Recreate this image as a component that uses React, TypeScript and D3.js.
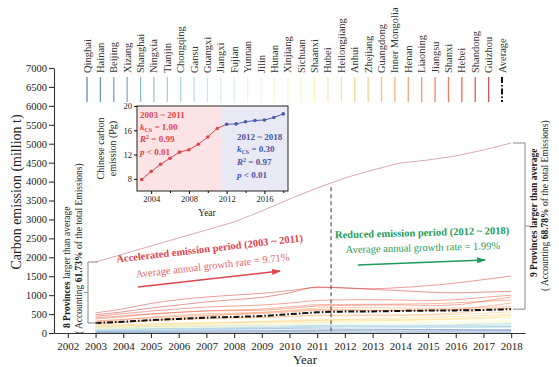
import React, { useEffect, useRef } from 'react';
import * as d3 from 'd3';

// ---- data (million t) ----
const years = [2003, 2004, 2005, 2006, 2007, 2008, 2009, 2010, 2011, 2012, 2013, 2014, 2015, 2016, 2017, 2018];
const xTicks = [2002, 2003, 2004, 2005, 2006, 2007, 2008, 2009, 2010, 2011, 2012, 2013, 2014, 2015, 2016, 2017, 2018];
const yTicks = [0, 500, 1000, 1500, 2000, 2500, 3000, 3500, 4000, 4500, 5000, 5500, 6000, 6500, 7000];

const provinces = ['Qinghai', 'Hainan', 'Beijing', 'Xizang', 'Shanghai', 'Ningxia', 'Tianjin', 'Chongqing', 'Gansu', 'Guangxi',
  'Jiangxi', 'Fujian', 'Yunnan', 'Jilin', 'Hunan', 'Xinjiang', 'Sichuan', 'Shaanxi', 'Hubei', 'Heilongjiang', 'Anhui',
  'Zhejiang', 'Guangdong', 'Inner Mongolia', 'Henan', 'Liaoning', 'Jiangsu', 'Shanxi', 'Hebei', 'Shandong', 'Guizhou'];

const qinghai = [40, 43, 46, 50, 54, 58, 61, 66, 72, 78, 82, 84, 80, 76, 74, 72];
const hainan = [18, 20, 23, 26, 29, 32, 35, 39, 44, 47, 48, 47, 46, 45, 47, 49];
const beijing = [92, 98, 104, 108, 110, 108, 110, 112, 106, 104, 100, 97, 94, 91, 89, 86];
const xizang = [4, 5, 5, 6, 6, 7, 7, 8, 8, 9, 9, 10, 10, 11, 11, 12];
const shanghai = [150, 162, 172, 178, 184, 188, 186, 194, 200, 196, 190, 186, 190, 193, 189, 185];
const ningxia = [55, 64, 73, 82, 92, 102, 114, 132, 160, 170, 176, 182, 192, 210, 236, 255];
const tianjin = [98, 106, 116, 122, 132, 138, 146, 160, 176, 181, 185, 180, 176, 170, 166, 165];
const chongqing = [82, 90, 97, 106, 116, 126, 136, 150, 166, 161, 152, 149, 151, 152, 158, 165];
const gansu = [88, 96, 106, 112, 121, 126, 131, 141, 156, 161, 166, 163, 156, 151, 156, 160];
const guangxi = [78, 86, 96, 106, 116, 122, 136, 152, 172, 182, 188, 183, 176, 182, 196, 212];
const jiangxi = [88, 98, 108, 118, 128, 134, 140, 154, 170, 172, 182, 188, 192, 198, 210, 222];
const fujian = [100, 118, 134, 150, 168, 178, 192, 208, 236, 236, 230, 240, 232, 238, 262, 278];
const yunnan = [118, 136, 154, 166, 176, 182, 192, 204, 212, 204, 196, 186, 176, 180, 192, 210];
const jilin = [140, 156, 176, 192, 208, 214, 224, 244, 266, 262, 254, 250, 240, 238, 244, 256];
const hunan = [150, 170, 194, 210, 226, 232, 244, 264, 282, 276, 272, 268, 264, 270, 282, 296];
const xinjiang = [112, 122, 134, 148, 160, 172, 188, 212, 250, 290, 330, 360, 380, 396, 410, 420];
const sichuan = [170, 186, 206, 222, 238, 248, 272, 288, 296, 304, 314, 306, 298, 300, 318, 336];
const shaanxi = [130, 146, 164, 180, 198, 214, 232, 262, 286, 302, 318, 334, 344, 356, 378, 400];
const hubei = [190, 212, 242, 262, 284, 294, 310, 336, 360, 356, 346, 344, 352, 366, 392, 432];
const heilongjiang = [205, 220, 236, 252, 264, 276, 284, 306, 330, 338, 342, 346, 358, 380, 420, 466];
const anhui = [176, 192, 210, 232, 254, 276, 298, 316, 340, 356, 380, 396, 412, 434, 462, 498];
const zhejiang = [270, 304, 340, 370, 396, 406, 414, 432, 458, 456, 458, 462, 470, 490, 524, 560];
const guangdong = [250, 286, 324, 352, 380, 392, 410, 440, 472, 470, 472, 478, 488, 530, 590, 642];
const innerMongolia = [230, 276, 340, 392, 444, 494, 536, 594, 660, 672, 668, 660, 650, 660, 676, 692];
const henan = [300, 350, 420, 470, 508, 526, 548, 586, 620, 612, 600, 604, 606, 614, 632, 652];
const liaoning = [320, 360, 398, 438, 470, 492, 514, 556, 598, 600, 596, 590, 588, 620, 700, 790];
const jiangsu = [370, 430, 500, 548, 588, 608, 636, 690, 748, 756, 758, 764, 772, 796, 834, 870];
const shanxi = [400, 456, 506, 544, 580, 590, 600, 650, 712, 730, 738, 742, 724, 744, 840, 950];
const hebei = [440, 510, 580, 636, 684, 712, 740, 790, 860, 876, 880, 870, 860, 880, 940, 1000];
const shandong = [530, 640, 780, 880, 950, 1000, 1050, 1120, 1200, 1190, 1170, 1200, 1250, 1320, 1410, 1505];
const guizhou = [480, 560, 660, 740, 820, 880, 940, 1060, 1215, 1190, 1150, 1120, 1080, 1060, 1080, 1100];

const provinceSeries = [qinghai, hainan, beijing, xizang, shanghai, ningxia, tianjin, chongqing, gansu, guangxi,
  jiangxi, fujian, yunnan, jilin, hunan, xinjiang, sichuan, shaanxi, hubei, heilongjiang, anhui,
  zhejiang, guangdong, innerMongolia, henan, liaoning, jiangsu, shanxi, hebei, shandong, guizhou];

const average = [265, 300, 340, 372, 405, 425, 450, 497, 545, 565, 570, 583, 592, 597, 610, 630];
const aboveAverageTotal = [1875, 2087, 2298, 2509, 2721, 2932, 3223, 3540, 3830, 4094, 4306, 4491, 4570, 4676, 4834, 5019];

// inset: Chinese carbon emission (Pg)
const insetYearsEarly = [2003, 2004, 2005, 2006, 2007, 2008, 2009, 2010, 2011];
const insetEarly = [7.9, 9.2, 10.4, 11.4, 12.4, 12.8, 13.7, 14.9, 16.3];
const insetYearsLate = [2012, 2013, 2014, 2015, 2016, 2017, 2018];
const insetLate = [17.0, 17.05, 17.4, 17.6, 17.7, 18.1, 18.7];
const insetXTicks = [2004, 2008, 2012, 2016];
const insetXMinor = [2006, 2010, 2014, 2018];
const insetYTicks = [8, 12, 16, 20];

const serif = "'Liberation Serif', 'Times New Roman', Times, serif";
const red = '#e0444b';
const redLight = '#e4686d';
const green = '#1e9a5a';
const blueTxt = '#4a55a8';

type Part = { t: string; bold?: boolean; italic?: boolean; dy?: number; size?: number };

function rich(sel: any, parts: Part[]) {
  parts.forEach(p => {
    const ts = sel.append('tspan').text(p.t);
    if (p.bold) ts.attr('font-weight', 'bold');
    if (p.italic) ts.attr('font-style', 'italic');
    if (p.dy) ts.attr('dy', p.dy);
    if (p.size) ts.attr('font-size', p.size);
  });
}

const App: React.FC = () => {
  const svgRef = useRef<SVGSVGElement>(null);

  useEffect(() => {
    if (!svgRef.current) return;
    const svg = d3.select(svgRef.current);
    svg.selectAll('*').remove();
    svg.attr('font-family', serif);

    const x = d3.scaleLinear().domain([2001.5, 2018.5]).range([54, 525]);
    const y = d3.scaleLinear().domain([0, 7000]).range([333, 68]);

    const defs = svg.append('defs');
    [['arrRed', red], ['arrGreen', green]].forEach(([id, c]) => {
      defs.append('marker')
        .attr('id', id)
        .attr('markerUnits', 'userSpaceOnUse')
        .attr('markerWidth', 9).attr('markerHeight', 6)
        .attr('refX', 8).attr('refY', 3)
        .attr('orient', 'auto')
        .append('path').attr('d', 'M0,0 L9,3 L0,6 Z').attr('fill', c);
    });

    // province lines
    const color = (i: number) => d3.interpolateRdYlBu(0.92 - i * (0.84 / 30));
    const line = d3.line<number>()
      .x((_, i) => x(years[i]))
      .y(d => y(d))
      .curve(d3.curveMonotoneX);

    provinceSeries.forEach((s, i) => {
      svg.append('path')
        .attr('d', line(s))
        .attr('fill', 'none')
        .attr('stroke', color(i))
        .attr('stroke-opacity', 0.55)
        .attr('stroke-width', 0.9);
    });

    // total of the above-average group
    svg.append('path')
      .attr('d', d3.line<number>().x((_, i) => x(years[i])).y(d => y(d))(aboveAverageTotal))
      .attr('fill', 'none')
      .attr('stroke', '#dcaaad')
      .attr('stroke-width', 1);

    // average
    svg.append('path')
      .attr('d', line(average))
      .attr('fill', 'none')
      .attr('stroke', '#111')
      .attr('stroke-width', 2)
      .attr('stroke-dasharray', '6,2,1.5,2');

    // period divider
    svg.append('line')
      .attr('x1', x(2011.5)).attr('x2', x(2011.5))
      .attr('y1', y(3850)).attr('y2', y(0))
      .attr('stroke', '#555').attr('stroke-width', 1.2)
      .attr('stroke-dasharray', '4,3');

    // axes
    const yAxis = svg.append('g')
      .attr('transform', `translate(${x(2001.5)},0)`)
      .call(d3.axisLeft(y).tickValues(yTicks).tickFormat(d3.format('d')).tickSize(5).tickSizeOuter(0).tickPadding(2));
    yAxis.attr('font-family', serif).attr('font-size', 10.5);

    const xAxis = svg.append('g')
      .attr('transform', `translate(0,${y(0)})`)
      .call(d3.axisBottom(x).tickValues(xTicks).tickFormat(d3.format('d')).tickSize(5).tickSizeOuter(0).tickPadding(4));
    xAxis.attr('font-family', serif).attr('font-size', 11);
    [yAxis, xAxis].forEach(a => {
      a.selectAll('path, line').attr('stroke', '#333').attr('stroke-width', 1.1);
      a.selectAll('text').attr('fill', '#222');
    });

    svg.append('text')
      .attr('transform', 'translate(21,192) rotate(-90)')
      .attr('text-anchor', 'middle')
      .attr('font-size', 14)
      .attr('fill', '#222')
      .text('Carbon emission (million t)');

    svg.append('text')
      .attr('x', 305).attr('y', 363.5)
      .attr('text-anchor', 'middle')
      .attr('font-size', 13)
      .attr('fill', '#222')
      .text('Year');

    // legend
    const legendItems = [...provinces, 'Average'];
    const lx = d3.scaleLinear().domain([0, legendItems.length - 1]).range([87, 502]);
    legendItems.forEach((name, i) => {
      const isAvg = name === 'Average';
      svg.append('line')
        .attr('x1', lx(i)).attr('x2', lx(i))
        .attr('y1', 77).attr('y2', 102)
        .attr('stroke', isAvg ? '#111' : color(i))
        .attr('stroke-opacity', isAvg ? 1 : 0.8)
        .attr('stroke-width', isAvg ? 2 : 1.3)
        .attr('stroke-dasharray', isAvg ? '6,2,1.5,2' : null);
      svg.append('text')
        .attr('transform', `translate(${lx(i) + 3.5},73) rotate(-90)`)
        .attr('font-size', 10.5)
        .attr('fill', '#333')
        .text(name);
    });

    // brackets
    const bracket = svg.append('g').attr('stroke', '#888').attr('stroke-width', 1).attr('fill', 'none');
    const lTop = y(aboveAverageTotal[0]);
    const lBot = y(average[0]);
    bracket.append('path').attr('d', `M98,${lTop} H88 V${lBot} H98 M88,${(lTop + lBot) / 2} H84`);
    const rTop = y(aboveAverageTotal[aboveAverageTotal.length - 1]);
    const rBot = y(average[average.length - 1]);
    bracket.append('path').attr('d', `M513,${rTop} H525 V${rBot} H513 M525,${(rTop + rBot) / 2} H530`);

    const leftT1 = svg.append('text').attr('transform', 'translate(70,328) rotate(-90)').attr('font-size', 9.5).attr('fill', '#222');
    rich(leftT1, [{ t: '8 Provinces', bold: true }, { t: ' larger than average' }]);
    const leftT2 = svg.append('text').attr('transform', 'translate(82,334) rotate(-90)').attr('font-size', 9.5).attr('fill', '#222');
    rich(leftT2, [{ t: '( Accounting ' }, { t: '61.73%', bold: true }, { t: ' of the total Emissions)' }]);

    const rightT1 = svg.append('text').attr('transform', 'translate(537,277) rotate(-90)').attr('font-size', 9.5).attr('fill', '#222');
    rich(rightT1, [{ t: '9 Provinces larger than average', bold: true }]);
    const rightT2 = svg.append('text').attr('transform', 'translate(548,291) rotate(-90)').attr('font-size', 9.5).attr('fill', '#222');
    rich(rightT2, [{ t: '( Accounting ' }, { t: '68.78%', bold: true }, { t: ' of the total Emissions)' }]);

    // period annotations
    const ann = (cx: number, cy: number, rot: number, txt: string, fill: string, bold: boolean) =>
      svg.append('text')
        .attr('transform', `translate(${cx},${cy}) rotate(${rot})`)
        .attr('text-anchor', 'middle')
        .attr('font-size', 10.5)
        .attr('font-weight', bold ? 'bold' : 'normal')
        .attr('fill', fill)
        .text(txt);
    ann(x(2007.13), y(2140), -6.5, 'Accelerated emission period (2003 ~ 2011)', red, true);
    ann(x(2007.24), y(1690), -6.5, 'Average annual growth rate = 9.71%', redLight, false);
    ann(x(2014.79), y(2560), -1.5, 'Reduced emission period (2012 ~ 2018)', green, true);
    ann(x(2014.82), y(2165), -1.5, 'Average annual growth rate = 1.99%', green, false);

    svg.append('line')
      .attr('x1', x(2004.53)).attr('y1', y(1214))
      .attr('x2', x(2009.66)).attr('y2', y(1637))
      .attr('stroke', red).attr('stroke-width', 1.5)
      .attr('marker-end', 'url(#arrRed)');
    svg.append('line')
      .attr('x1', x(2012.47)).attr('y1', y(1795))
      .attr('x2', x(2017.06)).attr('y2', y(1927))
      .attr('stroke', green).attr('stroke-width', 1.5)
      .attr('marker-end', 'url(#arrGreen)');

    // ---- inset ----
    const ix = d3.scaleLinear().domain([2002.5, 2018.5]).range([137, 288]);
    const iy = d3.scaleLinear().domain([6, 20]).range([191, 106]);
    const inset = svg.append('g');
    inset.append('rect')
      .attr('x', ix(2002.5)).attr('y', iy(20))
      .attr('width', ix(2011.5) - ix(2002.5)).attr('height', iy(6) - iy(20))
      .attr('fill', '#fce4e6');
    inset.append('rect')
      .attr('x', ix(2011.5)).attr('y', iy(20))
      .attr('width', ix(2018.5) - ix(2011.5)).attr('height', iy(6) - iy(20))
      .attr('fill', '#e9e9f6');

    const early = d3.line<number>().x((_, i) => ix(insetYearsEarly[i])).y(d => iy(d));
    const late = d3.line<number>().x((_, i) => ix(insetYearsLate[i])).y(d => iy(d));
    // join between the two periods
    inset.append('line')
      .attr('x1', ix(2011)).attr('y1', iy(insetEarly[insetEarly.length - 1]))
      .attr('x2', ix(2012)).attr('y2', iy(insetLate[0]))
      .attr('stroke', red).attr('stroke-width', 1);
    inset.append('path').attr('d', early(insetEarly)).attr('fill', 'none').attr('stroke', red).attr('stroke-width', 1);
    inset.append('path').attr('d', late(insetLate)).attr('fill', 'none').attr('stroke', '#4a5ab0').attr('stroke-width', 1);
    inset.selectAll('circle.e').data(insetEarly).join('circle')
      .attr('class', 'e')
      .attr('cx', (_, i) => ix(insetYearsEarly[i])).attr('cy', d => iy(d)).attr('r', 1.8).attr('fill', red);
    inset.selectAll('circle.l').data(insetLate).join('circle')
      .attr('class', 'l')
      .attr('cx', (_, i) => ix(insetYearsLate[i])).attr('cy', d => iy(d)).attr('r', 1.8).attr('fill', '#4a5ab0');

    inset.append('rect')
      .attr('x', ix(2002.5)).attr('y', iy(20))
      .attr('width', ix(2018.5) - ix(2002.5)).attr('height', iy(6) - iy(20))
      .attr('fill', 'none').attr('stroke', '#222').attr('stroke-width', 1);

    const ixAxis = inset.append('g')
      .attr('transform', `translate(0,${iy(6)})`)
      .call(d3.axisBottom(ix).tickValues(insetXTicks).tickFormat(d3.format('d')).tickSize(3).tickSizeOuter(0).tickPadding(2));
    inset.append('g')
      .attr('transform', `translate(0,${iy(6)})`)
      .call(d3.axisBottom(ix).tickValues(insetXMinor).tickFormat(() => '').tickSize(2).tickSizeOuter(0))
      .select('.domain').remove();
    const iyAxis = inset.append('g')
      .attr('transform', `translate(${ix(2002.5)},0)`)
      .call(d3.axisLeft(iy).tickValues(insetYTicks).tickSize(3).tickSizeOuter(0).tickPadding(2));
    [ixAxis, iyAxis].forEach(a => {
      a.attr('font-family', serif).attr('font-size', 8.5);
      a.select('.domain').remove();
      a.selectAll('text').attr('fill', '#222');
    });

    inset.append('text')
      .attr('x', 207).attr('y', 216)
      .attr('text-anchor', 'middle')
      .attr('font-size', 9.5)
      .attr('fill', '#222')
      .text('Year');
    inset.append('text')
      .attr('transform', `translate(104,${(iy(6) + iy(20)) / 2}) rotate(-90)`)
      .attr('text-anchor', 'middle').attr('font-size', 10).attr('fill', '#222')
      .text('Chinese carbon');
    inset.append('text')
      .attr('transform', `translate(116,${(iy(6) + iy(20)) / 2}) rotate(-90)`)
      .attr('text-anchor', 'middle').attr('font-size', 10).attr('fill', '#222')
      .text('emission (Pg)');

    const stat = (tx: number, ty: number, fill: string, parts: Part[]) => {
      const t = inset.append('text').attr('x', tx).attr('y', ty).attr('font-size', 9)
        .attr('font-weight', 'bold').attr('fill', fill);
      rich(t, parts);
    };
    stat(140, 118, red, [{ t: '2003 ~ 2011' }]);
    stat(140, 130, red, [{ t: 'k', italic: true }, { t: 'CS', size: 6, dy: 2 }, { t: ' = 1.00', dy: -2 }]);
    stat(140, 142, red, [{ t: 'R', italic: true }, { t: '2', size: 6, dy: -3 }, { t: ' = 0.99', dy: 3 }]);
    stat(140, 155, red, [{ t: 'p', italic: true }, { t: ' < 0.01' }]);
    stat(237, 140, blueTxt, [{ t: '2012 ~ 2018' }]);
    stat(237, 152, blueTxt, [{ t: 'k', italic: true }, { t: 'CS', size: 6, dy: 2 }, { t: ' = 0.30', dy: -2 }]);
    stat(237, 165, blueTxt, [{ t: 'R', italic: true }, { t: '2', size: 6, dy: -3 }, { t: ' = 0.97', dy: 3 }]);
    stat(237, 178, blueTxt, [{ t: 'p', italic: true }, { t: ' < 0.01' }]);
  }, []);

  return (
    <svg
      ref={svgRef}
      width={559}
      height={367}
      style={{ position: 'absolute', left: 0, top: 0, background: '#fff' }}
    />
  );
};

export default App;
